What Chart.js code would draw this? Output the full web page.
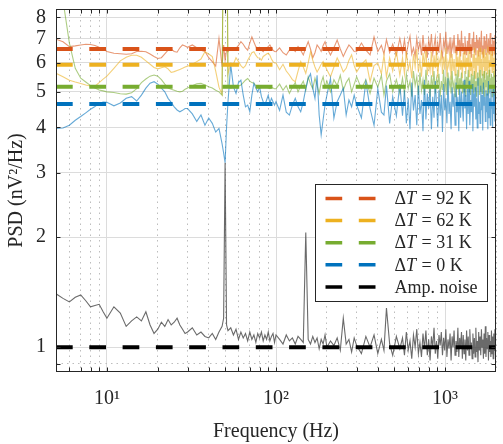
<!DOCTYPE html>
<html>
<head>
<meta charset="utf-8">
<script src="https://cdn.jsdelivr.net/npm/chart.js@4.4.1/dist/chart.umd.min.js"></script>
<style>
  html, body { margin: 0; padding: 0; background: #fff; }
  #wrap { width: 503px; height: 444px; position: relative; }
</style>
</head>
<body>
<div id="wrap"><canvas id="psdChart"></canvas></div>
<script>
// frequency grid (Hz), shared by all traces
const freq = [
  5, 5.5, 6, 6.5, 7, 7.5, 8, 8.5, 9, 9.5,
  10, 11, 12, 13, 14, 15, 16, 17, 18, 19,
  20, 21, 22, 23, 24, 25, 26, 27, 28, 29,
  30, 32, 34, 36, 38, 40, 42, 44, 46, 48,
  49, 50, 51, 52, 54, 56, 58, 60, 62, 64,
  66, 68, 70, 72, 74, 76, 78, 80, 82, 84,
  86, 88, 90, 92, 94, 96, 98, 100, 105, 110,
  115, 120, 125, 130, 135, 140, 145, 150, 155, 160,
  165, 170, 175, 180, 185, 190, 195, 200, 210, 220,
  230, 240, 250, 260, 270, 280, 290, 300, 320, 340,
  360, 380, 400, 420, 435, 450, 470, 490, 515, 540,
  560, 575, 590, 605, 620, 635, 650, 665, 680, 695,
  710, 725, 740, 755, 770, 785, 800, 815, 830, 845,
  860, 875, 890, 905, 920, 935, 950, 965, 980, 995,
  1010, 1025, 1040, 1055, 1070, 1085, 1100, 1115, 1130, 1145,
  1160, 1175, 1190, 1205, 1220, 1235, 1250, 1265, 1280, 1295,
  1310, 1325, 1340, 1355, 1370, 1385, 1400, 1415, 1430, 1445,
  1460, 1475, 1490, 1505, 1520, 1535, 1550, 1565, 1580, 1595,
  1610, 1625, 1640, 1655, 1670, 1685, 1700, 1715, 1730, 1745,
  1760, 1775, 1790, 1805, 1820, 1835, 1850, 1865, 1880, 1895,
  1910, 1925, 1940, 1955, 1970, 1985, 2000
];

// PSD values (nV^2/Hz)
const psd92 = [
  6.97, 6.86, 6.65, 6.68, 6.72, 6.75, 6.74, 6.70, 6.62, 6.56,
  6.45, 6.38, 6.36, 6.34, 6.36, 6.45, 6.46, 6.44, 6.35, 6.25,
  6.17, 6.20, 6.35, 6.50, 6.55, 6.45, 6.42, 6.60, 6.72, 6.68,
  6.62, 6.72, 6.60, 6.50, 6.45, 6.20, 6.05, 5.88, 7.00, 5.86,
  6.72, 6.10, 6.50, 6.44, 6.60, 6.50, 6.58, 6.70, 6.86, 6.75,
  6.60, 6.50, 6.80, 7.07, 6.85, 6.65, 6.55, 6.62, 6.50, 6.44,
  6.55, 6.60, 6.65, 6.72, 6.60, 6.50, 6.45, 6.44, 6.60, 6.40,
  6.31, 6.50, 6.60, 6.45, 6.65, 6.50, 6.31, 6.60, 6.86, 6.55,
  6.20, 6.40, 6.72, 6.60, 6.45, 6.70, 6.86, 6.60, 6.31, 6.60,
  6.93, 6.55, 6.25, 6.50, 6.72, 6.60, 6.45, 6.44, 6.80, 6.50,
  6.31, 7.07, 6.45, 6.70, 6.35, 6.95, 6.40, 6.75, 6.30, 7.00,
  6.40, 6.95, 6.30, 6.75, 7.10, 6.35, 6.60, 6.25, 7.00, 6.50,
  6.85, 6.30, 7.15, 6.45, 6.70, 6.20, 6.95, 6.55, 7.20, 6.35,
  6.65, 7.05, 6.30, 6.80, 6.40, 7.25, 6.50, 6.25, 6.90, 6.60,
  7.30, 6.35, 6.75, 6.45, 7.05, 6.20, 6.85, 6.55, 7.15, 6.40,
  6.70, 6.30, 7.20, 6.60, 6.95, 6.25, 7.35, 6.45, 6.80, 6.35,
  7.10, 6.55, 6.30, 6.90, 6.45, 7.25, 6.35, 6.75, 6.20, 7.00,
  6.50, 7.30, 6.40, 6.85, 6.30, 7.15, 6.60, 6.95, 6.25, 7.05,
  6.45, 6.80, 7.35, 6.35, 6.70, 6.20, 7.10, 6.55, 6.90, 6.30,
  7.20, 6.60, 6.40, 7.00, 6.35, 6.85, 7.25, 6.45, 6.75, 6.30,
  7.05, 6.50, 6.90, 6.35, 7.15, 6.55, 6.80
];
const psd62 = [
  5.62, 5.50, 5.38, 5.32, 5.27, 5.22, 5.19, 5.18, 5.30, 5.42,
  5.52, 5.80, 6.08, 6.22, 6.30, 6.30, 6.22, 6.08, 5.95, 5.83,
  5.78, 5.82, 5.86, 5.78, 5.65, 5.68, 5.72, 5.76, 5.80, 5.85,
  5.88, 5.95, 6.05, 6.15, 6.44, 6.35, 6.25, 5.70, 5.15, 4.92,
  20.0, 25.0, 20.0, 5.60, 6.00, 5.95, 6.20, 6.05, 5.90, 5.81,
  5.90, 6.10, 6.25, 6.40, 6.44, 6.30, 6.20, 6.19, 6.10, 6.25,
  6.30, 6.35, 6.38, 6.30, 6.15, 6.05, 6.00, 6.00, 5.75, 5.95,
  5.70, 5.56, 5.40, 5.33, 5.70, 6.05, 5.85, 5.62, 6.00, 6.44,
  6.10, 5.85, 5.67, 5.80, 5.95, 6.05, 5.90, 5.75, 5.50, 5.85,
  6.19, 5.95, 5.67, 5.80, 6.10, 6.31, 5.90, 5.67, 5.95, 6.12,
  5.33, 5.90, 6.00, 5.60, 6.30, 5.50, 6.20, 5.70, 6.45, 5.55,
  6.20, 5.60, 6.45, 5.75, 6.05, 5.45, 6.35, 5.85, 6.55, 5.65,
  6.10, 5.50, 6.40, 5.90, 6.60, 5.55, 6.00, 5.70, 6.45, 5.50,
  6.30, 5.80, 6.55, 5.45, 6.15, 5.95, 6.50, 5.60, 6.25, 5.75,
  6.60, 5.50, 6.05, 5.85, 6.45, 5.40, 6.35, 5.70, 6.15, 5.55,
  6.50, 5.90, 6.25, 5.50, 6.60, 5.75, 6.10, 5.45, 6.40, 5.85,
  6.55, 5.60, 6.20, 5.95, 6.45, 5.50, 6.65, 5.70, 6.05, 5.55,
  6.35, 5.80, 6.60, 5.45, 6.20, 5.65, 6.50, 5.90, 6.30, 5.50,
  6.60, 5.75, 6.15, 5.55, 6.45, 5.85, 6.55, 5.45, 6.25, 5.70,
  6.40, 5.60, 6.65, 5.80, 6.10, 5.50, 6.50, 5.95, 6.35, 5.65,
  6.55, 5.75, 6.20, 5.50, 6.45, 5.85, 6.30
];
const psd31 = [
  12.0, 8.90, 6.80, 5.80, 5.45, 5.32, 5.20, 5.12, 5.06, 5.03,
  5.00, 4.98, 4.94, 4.93, 4.97, 5.10, 5.30, 5.42, 5.52, 5.56,
  5.52, 5.40, 5.25, 5.12, 5.08, 5.05, 5.02, 5.00, 5.02, 5.08,
  5.12, 5.20, 5.26, 5.28, 5.22, 5.16, 5.12, 5.05, 5.00, 4.90,
  20.0, 25.0, 20.0, 5.15, 5.12, 5.15, 5.20, 5.18, 5.22, 5.30,
  5.38, 5.44, 5.35, 5.30, 5.28, 5.20, 5.15, 5.12, 5.14, 5.16,
  5.18, 5.16, 5.12, 5.10, 5.14, 5.12, 5.10, 5.10, 5.25, 5.05,
  5.20, 4.95, 5.15, 5.30, 5.00, 5.20, 5.35, 5.05, 5.50, 5.25,
  5.10, 5.45, 5.20, 4.95, 5.30, 5.50, 5.15, 5.35, 5.00, 5.40,
  5.20, 5.55, 5.05, 5.30, 5.45, 5.00, 5.25, 5.50, 5.10, 5.40,
  4.95, 5.45, 5.15, 5.55, 4.90, 5.35, 5.60, 5.00, 5.40, 4.95,
  5.45, 4.95, 5.60, 5.10, 5.35, 4.85, 5.70, 5.20, 5.50, 4.90,
  5.65, 5.05, 5.40, 4.90, 5.75, 5.15, 5.30, 4.85, 5.55, 5.10,
  5.70, 4.95, 5.45, 5.20, 5.60, 4.85, 5.35, 5.05, 5.75, 5.00,
  5.50, 4.90, 5.65, 5.15, 5.40, 4.95, 5.70, 5.10, 5.30, 4.85,
  5.60, 5.05, 5.75, 4.90, 5.45, 5.20, 5.65, 4.95, 5.35, 5.00,
  5.70, 4.85, 5.50, 5.15, 5.75, 5.00, 5.40, 4.90, 5.60, 5.10,
  5.55, 4.95, 5.70, 5.05, 5.35, 4.85, 5.65, 5.20, 5.50, 4.90,
  5.75, 5.00, 5.45, 4.95, 5.60, 5.10, 5.70, 4.85, 5.40, 5.15,
  5.65, 4.90, 5.55, 5.05, 5.75, 4.95, 5.45, 5.20, 5.60, 4.85,
  5.50, 5.00, 5.70, 4.90, 5.55, 5.10, 5.45
];
const psd0 = [
  3.97, 3.98, 4.05, 4.18, 4.28, 4.38, 4.48, 4.56, 4.65, 4.69,
  4.68, 4.58, 4.66, 4.80, 4.85, 4.72, 4.90, 5.12, 5.28, 5.33,
  5.25, 5.12, 5.00, 4.80, 4.68, 4.55, 4.46, 4.41, 4.45, 4.50,
  4.50, 4.35, 4.15, 4.32, 4.05, 4.24, 4.10, 3.88, 3.97, 3.60,
  3.40, 3.20, 4.00, 4.70, 5.93, 5.16, 4.95, 5.30, 5.38, 4.90,
  4.55, 4.60, 4.41, 4.90, 5.28, 5.12, 5.00, 5.16, 4.85, 4.70,
  4.61, 4.75, 4.90, 4.65, 4.80, 4.70, 4.60, 4.70, 4.45, 4.90,
  4.40, 4.32, 4.60, 4.80, 4.55, 4.41, 4.70, 5.10, 5.44, 5.60,
  5.12, 4.80, 5.55, 4.32, 3.81, 4.20, 4.61, 4.90, 5.44, 4.24,
  4.70, 4.90, 5.12, 4.32, 4.75, 4.55, 4.90, 4.60, 4.24, 5.33,
  4.50, 4.05, 5.10, 4.40, 4.32, 5.20, 4.10, 4.85, 4.30, 5.25,
  4.30, 5.05, 4.10, 4.80, 3.95, 5.30, 4.45, 4.90, 4.05, 5.20,
  4.35, 4.75, 3.90, 5.40, 4.20, 4.95, 4.50, 5.10, 3.95, 4.85,
  4.25, 5.35, 4.60, 4.00, 5.05, 4.30, 4.90, 3.88, 5.25, 4.45,
  4.80, 4.10, 5.45, 4.35, 4.70, 3.95, 5.15, 4.55, 4.95, 4.05,
  5.30, 4.40, 4.85, 3.90, 5.20, 4.25, 5.00, 4.60, 4.15, 5.40,
  4.50, 4.90, 3.95, 5.10, 4.35, 5.35, 4.05, 4.75, 4.40, 5.25,
  3.90, 4.95, 4.55, 5.15, 4.20, 4.80, 3.98, 5.45, 4.35, 4.70,
  4.10, 5.20, 4.45, 4.90, 3.92, 5.30, 4.60, 4.85, 4.15, 5.05,
  4.40, 4.95, 3.95, 5.35, 4.25, 4.80, 4.05, 5.20, 4.50, 4.65,
  4.00, 5.10, 4.35, 4.90, 4.15, 5.25, 4.55
];
const ampNoise = [
  1.40, 1.36, 1.33, 1.37, 1.39, 1.34, 1.29, 1.30, 1.31, 1.25,
  1.20, 1.29, 1.24, 1.14, 1.18, 1.21, 1.18, 1.25, 1.15, 1.09,
  1.12, 1.17, 1.14, 1.19, 1.15, 1.17, 1.20, 1.15, 1.12, 1.09,
  1.10, 1.13, 1.08, 1.10, 1.07, 1.06, 1.09, 1.05, 1.10, 1.14,
  1.20, 3.20, 1.15, 1.11, 1.13, 1.08, 1.12, 1.05, 1.10, 1.06,
  1.09, 1.04, 1.10, 1.05, 1.08, 1.03, 1.09, 1.06, 1.10, 1.04,
  1.08, 1.05, 1.10, 1.04, 1.07, 1.09, 1.03, 1.08, 1.05, 1.02,
  1.08, 1.04, 1.06, 1.02, 1.07, 1.05, 1.03, 2.06, 1.05, 1.02,
  1.07, 1.03, 1.06, 0.99, 1.05, 1.02, 1.08, 1.00, 1.04, 1.01,
  1.06, 0.98, 1.20, 1.02, 1.05, 0.97, 1.06, 1.01, 0.96, 1.07,
  1.00, 1.08, 0.96, 1.05, 0.98, 1.28, 1.02, 0.95, 1.07, 0.99,
  1.06, 0.95, 1.10, 0.98, 1.04, 0.93, 1.08, 1.00, 1.12, 0.96,
  1.03, 0.94, 1.09, 0.99, 1.11, 0.95, 1.05, 0.92, 1.07, 1.00,
  1.13, 0.96, 1.04, 0.93, 1.08, 1.01, 1.10, 0.95, 1.06, 0.98,
  1.12, 0.94, 1.05, 0.99, 1.09, 0.92, 1.07, 1.00, 1.11, 0.95,
  1.04, 0.97, 1.13, 0.94, 1.06, 1.00, 1.10, 0.93, 1.08, 0.96,
  1.05, 0.92, 1.11, 0.98, 1.07, 0.95, 1.12, 0.99, 1.03, 0.93,
  1.09, 0.96, 1.06, 0.94, 1.13, 0.97, 1.04, 0.91, 1.10, 0.98,
  1.07, 0.95, 1.12, 1.00, 1.05, 0.93, 1.09, 0.96, 1.14, 0.94,
  1.06, 0.99, 1.10, 0.92, 1.08, 0.97, 1.04, 0.94, 1.11, 0.96,
  1.07, 0.93, 1.09, 0.98, 1.12, 0.95, 1.06
];

const seriesLabels = ['ΔT = 92 K', 'ΔT = 62 K', 'ΔT = 31 K', 'ΔT = 0 K', 'Amp. noise'];
const meanLevels = [6.55, 5.93, 5.16, 4.63, 1.0];

const xTicks = [5, 6, 7, 8, 9, 10, 20, 30, 40, 50, 60, 70, 80, 90,
  100, 200, 300, 400, 500, 600, 700, 800, 900, 1000, 2000];
const xMajor = [10, 100, 1000];
const xMajorLabels = ['10¹', '10²', '10³'];
const yTicks = [0.9, 1, 2, 3, 4, 5, 6, 7, 8];
const yTickLabels = ['', '1', '2', '3', '4', '5', '6', '7', '8'];
const xRange = [5, 2000];
const yRange = [0.855, 8.43];

const dashColors = ['#D95319', '#EDB120', '#77AC30', '#0072BD', '#000000'];
const traceColors = ['rgba(217,83,25,0.6)', 'rgba(237,177,32,0.6)', 'rgba(119,172,48,0.6)',
  'rgba(0,114,189,0.6)', 'rgba(80,80,80,0.85)'];
const traces = [psd92, psd62, psd31, psd0, ampNoise];
const serif = '"Liberation Serif", "DejaVu Serif", serif';
const axisColor = '#262626';

const datasets = [];
seriesLabels.forEach(function (label, i) {
  datasets.push({
    label: label,
    inLegend: true,
    data: [{x: freq[0], y: meanLevels[i]}, {x: freq[freq.length - 1], y: meanLevels[i]}],
    borderColor: dashColors[i],
    borderWidth: 4,
    borderDash: [16.7, 16.6],
    borderCapStyle: 'butt',
    pointRadius: 0,
    order: 0
  });
});
traces.forEach(function (vals, i) {
  datasets.push({
    label: seriesLabels[i] + ' PSD',
    data: vals.map(function (v, k) { return {x: freq[k], y: v}; }),
    borderColor: traceColors[i],
    borderWidth: 1.1,
    pointRadius: 0,
    tension: 0,
    order: i === 4 ? 6 : 5 - i
  });
});

// box + inward tick marks like matlab axes
const frameTicks = {
  id: 'frameTicks',
  afterDatasetsDraw(chart) {
    const {ctx, chartArea: a, scales} = chart;
    const L = Math.round(a.left) + 0.5, R = Math.round(a.right) - 0.5;
    const T = Math.round(a.top) + 0.5, B = Math.round(a.bottom) - 0.5;
    ctx.save();
    ctx.strokeStyle = axisColor;
    ctx.lineWidth = 1;
    ctx.beginPath();
    xTicks.forEach(function (v) {
      const px = Math.round(scales.x.getPixelForValue(v)) + 0.5;
      if (px <= L + 1 || px >= R - 1) return;
      ctx.moveTo(px, B); ctx.lineTo(px, B - 4);
      ctx.moveTo(px, T); ctx.lineTo(px, T + 4);
    });
    yTicks.forEach(function (v) {
      const py = Math.round(scales.y.getPixelForValue(v)) + 0.5;
      ctx.moveTo(L, py); ctx.lineTo(L + 4, py);
      ctx.moveTo(R, py); ctx.lineTo(R - 4, py);
    });
    ctx.stroke();
    ctx.strokeRect(L, T, R - L, B - T);
    ctx.restore();
  }
};

// legend box drawn inside the axes, bottom right
const insideLegend = {
  id: 'insideLegend',
  afterDraw(chart) {
    const {ctx, chartArea: a} = chart;
    const items = chart.data.datasets.filter(function (d) { return d.inLegend; });
    const w = 172, h = 117;
    const x0 = Math.round(a.right - 9 - w) + 0.5, y0 = Math.round(a.top + 175) + 0.5;
    ctx.save();
    ctx.fillStyle = '#ffffff';
    ctx.fillRect(x0, y0, w, h);
    ctx.strokeStyle = axisColor;
    ctx.lineWidth = 1;
    ctx.strokeRect(x0, y0, w, h);
    items.forEach(function (d, i) {
      const y = y0 + 14 + i * 22.1;
      ctx.strokeStyle = d.borderColor;
      ctx.lineWidth = 3.5;
      ctx.setLineDash([16.7, 16.6]);
      ctx.beginPath();
      ctx.moveTo(x0 + 10, y);
      ctx.lineTo(x0 + 60, y);
      ctx.stroke();
      ctx.setLineDash([]);
      ctx.fillStyle = axisColor;
      ctx.textBaseline = 'middle';
      let tx = x0 + 79;
      let text = d.label;
      const plain = '18px ' + serif, ital = 'italic 18px ' + serif;
      if (text.indexOf('ΔT') === 0) {
        ctx.font = plain; ctx.fillText('Δ', tx, y + 1); tx += ctx.measureText('Δ').width;
        ctx.font = ital; ctx.fillText('T', tx, y + 1); tx += ctx.measureText('T').width + 1;
        text = text.slice(2);
      }
      ctx.font = plain;
      ctx.fillText(text, tx, y + 1);
    });
    ctx.restore();
  }
};

new Chart(document.getElementById('psdChart'), {
  type: 'line',
  data: {datasets: datasets},
  options: {
    responsive: true,
    maintainAspectRatio: false,
    animation: false,
    devicePixelRatio: 1,
    layout: {padding: {top: 9, right: 7, left: 0, bottom: 0}},
    plugins: {legend: {display: false}, tooltip: {enabled: false}},
    scales: {
      x: {
        type: 'logarithmic',
        min: xRange[0],
        max: xRange[1],
        afterBuildTicks: function (s) { s.ticks = xTicks.map(function (v) { return {value: v}; }); },
        afterFit: function (s) { s.height = 72; s.paddingLeft = 0; s.paddingRight = 0; },
        ticks: {
          autoSkip: false,
          maxRotation: 0,
          padding: 15,
          color: axisColor,
          font: {family: serif, size: 20},
          callback: function (v) { const k = xMajor.indexOf(v); return k >= 0 ? xMajorLabels[k] : ''; }
        },
        grid: {
          drawTicks: false,
          color: function (c) { return c.tick && xMajor.indexOf(c.tick.value) >= 0 ? '#dcdcdc' : '#bdbdbd'; }
        },
        border: {
          display: false,
          dash: function (c) { return c.tick && xMajor.indexOf(c.tick.value) < 0 ? [1.5, 4] : []; }
        },
        title: {
          display: true,
          text: 'Frequency (Hz)',
          color: axisColor,
          font: {family: serif, size: 20},
          padding: {top: 8, bottom: 0}
        }
      },
      y: {
        type: 'logarithmic',
        min: yRange[0],
        max: yRange[1],
        afterBuildTicks: function (s) { s.ticks = yTicks.map(function (v) { return {value: v}; }); },
        afterFit: function (s) { s.width = 56; s.paddingTop = 0; s.paddingBottom = 0; },
        ticks: {
          autoSkip: false,
          padding: 10,
          color: axisColor,
          font: {family: serif, size: 20},
          callback: function (v) { const k = yTicks.indexOf(v); return k >= 0 ? yTickLabels[k] : ''; }
        },
        grid: {
          drawTicks: false,
          color: function (c) { return c.tick && c.tick.value < 1 ? '#bdbdbd' : '#dcdcdc'; }
        },
        border: {
          display: false,
          dash: function (c) { return c.tick && c.tick.value < 1 ? [1.5, 4] : []; }
        },
        title: {
          display: true,
          text: 'PSD (nV²/Hz)',
          color: axisColor,
          font: {family: serif, size: 20},
          padding: {top: 5, bottom: 0}
        }
      }
    }
  },
  plugins: [frameTicks, insideLegend]
});
</script>
</body>
</html>
